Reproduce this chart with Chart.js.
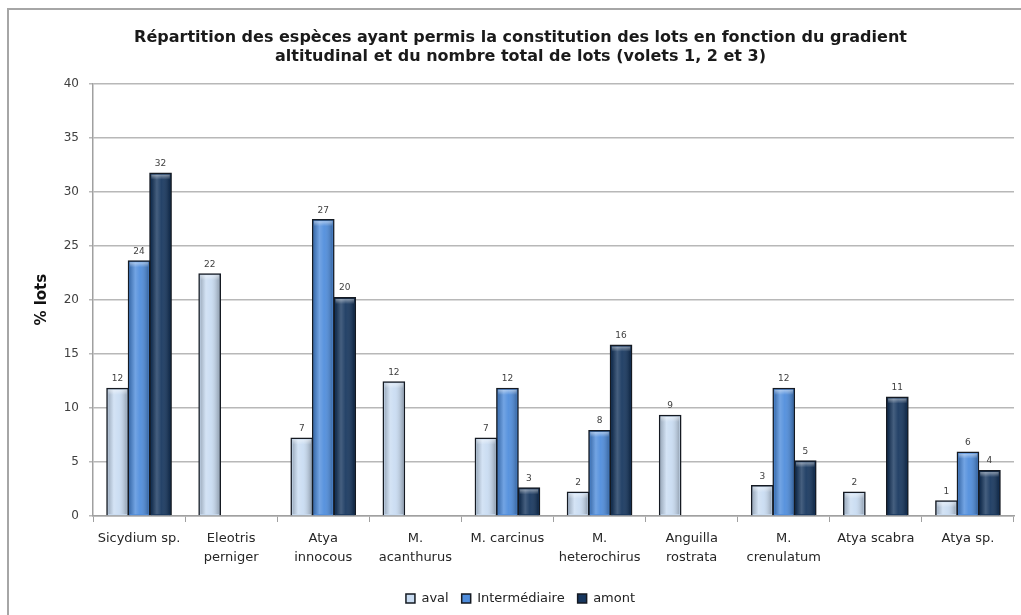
<!DOCTYPE html>
<html lang="fr">
<head>
<meta charset="utf-8">
<title>Répartition des espèces</title>
<script src="https://cdn.jsdelivr.net/npm/chart.js@4/dist/chart.umd.min.js"></script>
<style>
  html, body { margin: 0; padding: 0; background: #ffffff; }
  #wrap { width: 1021px; height: 615px; position: relative; }
</style>
</head>
<body>
<div id="wrap"><canvas id="chart" width="1021" height="615"></canvas></div>
<script>
// Espèces (catégories de l'axe X)
const categories = [
  'Sicydium sp.', ['Eleotris', 'perniger'], ['Atya', 'innocous'], ['M.', 'acanthurus'],
  'M. carcinus', ['M.', 'heterochirus'], ['Anguilla', 'rostrata'], ['M.', 'crenulatum'],
  'Atya scabra', 'Atya sp.'
];

// % de lots par zone du gradient altitudinal
const aval = [11.8, 22.4, 7.2, 12.4, 7.2, 2.2, 9.3, 2.8, 2.2, 1.4];
const intermediaire = [23.6, null, 27.4, null, 11.8, 7.9, null, 11.8, null, 5.9];
const amont = [31.7, null, 20.2, null, 2.6, 15.8, null, 5.1, 11.0, 4.2];

const seriesNames = ['aval', 'Intermédiaire', 'amont'];
const yTicks = [0, 5, 10, 15, 20, 25, 30, 35, 40];

const FONT = '"DejaVu Sans", Verdana, sans-serif';

// Cadre gris autour du graphique
const framePlugin = {
  id: 'frame',
  beforeDraw(chart) {
    const c = chart.ctx;
    c.save();
    c.fillStyle = '#ffffff';
    c.fillRect(0, 0, chart.width, chart.height);
    c.strokeStyle = '#a6a6a6';
    c.lineWidth = 2;
    c.strokeRect(8, 9, chart.width + 20, chart.height + 20);
    c.restore();
  }
};

// Relief des barres : dégradé horizontal par-dessus le remplissage
const shadePlugin = {
  id: 'shade',
  afterDatasetsDraw(chart) {
    const c = chart.ctx;
    c.save();
    chart.data.datasets.forEach((ds, i) => {
      const meta = chart.getDatasetMeta(i);
      meta.data.forEach((bar, j) => {
        if (ds.data[j] === null) return;
        const { x, y, base, width } = bar.getProps(['x', 'y', 'base', 'width'], true);
        const l = x - width / 2 + 1.5, r = x + width / 2 - 1.5;
        const t = y + 1.5, b = base - 1;
        if (b <= t) return;
        const g = c.createLinearGradient(l, 0, r, 0);
        g.addColorStop(0, 'rgba(0,0,0,0.2)');
        g.addColorStop(0.3, 'rgba(255,255,255,0.2)');
        g.addColorStop(0.55, 'rgba(255,255,255,0.06)');
        g.addColorStop(1, 'rgba(0,0,0,0.25)');
        c.fillStyle = g;
        c.fillRect(l, t, r - l, b - t);
        const cap = Math.min(5, b - t);
        const g2 = c.createLinearGradient(0, t, 0, t + cap);
        g2.addColorStop(0, 'rgba(255,255,255,0.45)');
        g2.addColorStop(1, 'rgba(255,255,255,0)');
        c.fillStyle = g2;
        c.fillRect(l, t, r - l, cap);
      });
    });
    c.restore();
  }
};

// Valeurs arrondies au-dessus des barres
const valueLabels = {
  id: 'valueLabels',
  afterDatasetsDraw(chart) {
    const c = chart.ctx;
    c.save();
    c.font = '9px ' + FONT;
    c.fillStyle = '#404040';
    c.textAlign = 'center';
    c.textBaseline = 'bottom';
    chart.data.datasets.forEach((ds, i) => {
      const meta = chart.getDatasetMeta(i);
      meta.data.forEach((bar, j) => {
        const v = ds.data[j];
        if (v === null) return;
        c.fillText(String(Math.round(v)), bar.x, bar.y - 5);
      });
    });
    c.restore();
  }
};

const datasets = [aval, intermediaire, amont].map((values, i) => ({
  label: seriesNames[i],
  data: values,
  backgroundColor: ['#c9dcf2', '#4f8ddc', '#17375f'][i],
  borderColor: '#151a22',
  borderWidth: 1.5,
  borderSkipped: 'bottom',
  inflateAmount: 0.6,
  categoryPercentage: 0.7,
  barPercentage: 1.0
}));

new Chart(document.getElementById('chart'), {
  type: 'bar',
  data: { labels: categories, datasets },
  plugins: [framePlugin, shadePlugin, valueLabels],
  options: {
    responsive: false,
    animation: false,
    devicePixelRatio: 1,
    layout: { padding: { left: 27, right: 7, top: 0, bottom: 0 } },
    plugins: {
      title: {
        display: true,
        text: [
          'Répartition des espèces ayant permis la constitution des lots en fonction du gradient',
          'altitudinal et du nombre total de lots (volets 1, 2 et 3)'
        ],
        color: '#1a1a1a',
        font: { family: FONT, size: 16, weight: 'bold', lineHeight: 1.2 },
        padding: { top: 28, bottom: 17 }
      },
      legend: {
        position: 'bottom',
        labels: {
          color: '#222222',
          font: { family: FONT, size: 13 },
          boxWidth: 9,
          boxHeight: 9,
          padding: 13
        }
      },
      tooltip: { enabled: false }
    },
    scales: {
      x: {
        grid: {
          offset: true,
          drawOnChartArea: false,
          drawTicks: true,
          tickLength: 6,
          color: '#a0a0a0'
        },
        border: { display: true, color: '#a0a0a0', width: 1.5 },
        ticks: {
          color: '#262626',
          font: { family: FONT, size: 13, lineHeight: 1.45 },
          padding: 7,
          maxRotation: 0,
          autoSkip: false
        },
        afterFit(scale) { scale.height = 63; }
      },
      y: {
        min: 0,
        max: 40,
        afterBuildTicks(scale) { scale.ticks = yTicks.map(v => ({ value: v })); },
        grid: { color: '#b8b8b8', lineWidth: 1.5, tickLength: 4 },
        border: { display: true, color: '#a0a0a0', width: 1.5 },
        ticks: {
          color: '#404040',
          font: { family: FONT, size: 12 },
          padding: 10
        },
        title: {
          display: true,
          text: '% lots',
          color: '#111111',
          font: { family: FONT, size: 15, weight: 'bold' },
          padding: { top: 6, bottom: 0 }
        },
        afterFit(scale) { scale.width = 66; }
      }
    }
  }
});
</script>
</body>
</html>
